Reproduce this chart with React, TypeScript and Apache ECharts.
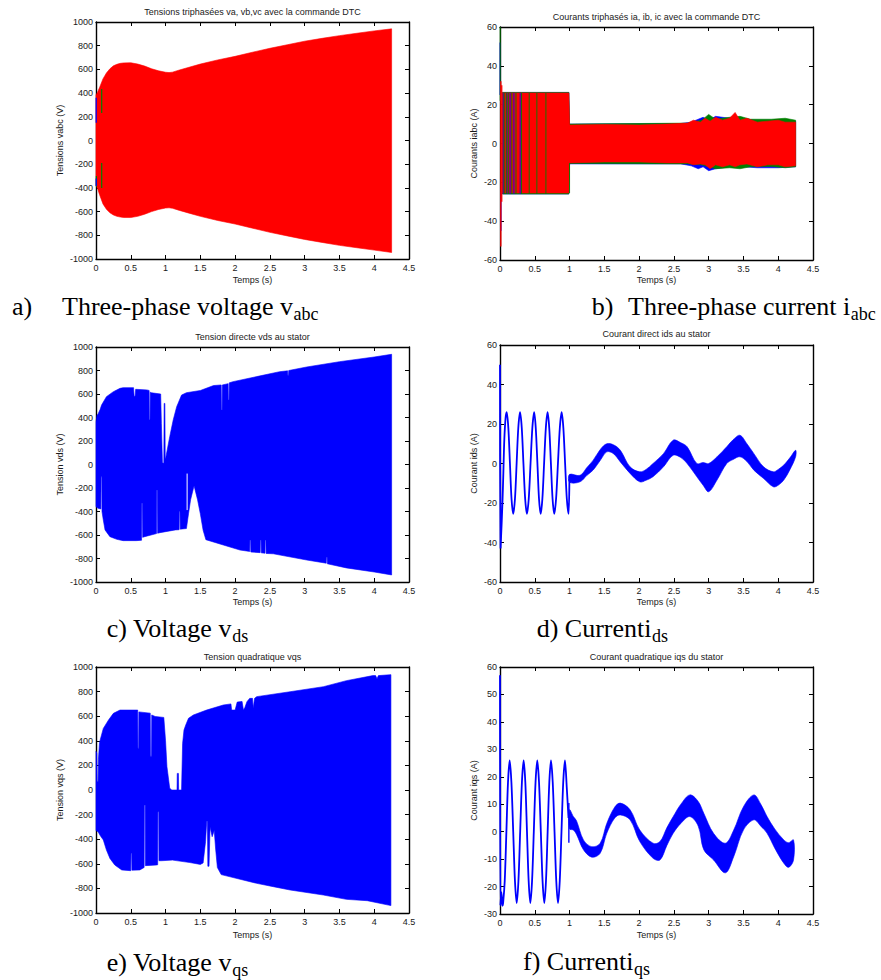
import React, { useEffect, useRef } from "react";
import * as echarts from "echarts";

// ---------------- data ----------------
// a) three-phase voltage envelope (V)
const vabcT = [0, 0.02, 0.05, 0.1, 0.15, 0.2, 0.25, 0.3, 0.35, 0.4, 0.5, 0.6, 0.7, 0.8, 0.9, 1.0, 1.05, 1.1, 1.2, 1.35, 1.5, 1.75, 2.0, 2.25, 2.5, 2.75, 3.0, 3.25, 3.5, 3.75, 4.0, 4.25];
const vabcUpper = [384, 405, 445, 520, 570, 605, 630, 643, 651, 655, 656, 645, 628, 605, 588, 576, 573, 577, 595, 620, 645, 680, 710, 745, 778, 808, 838, 862, 885, 905, 925, 942];
const vabcLower = [-376, -400, -455, -535, -580, -610, -628, -640, -646, -650, -650, -640, -622, -600, -582, -570, -568, -572, -590, -615, -640, -675, -705, -740, -775, -805, -835, -860, -885, -905, -925, -945];
const vabcGreenSegs = [[0.082, 232, 435], [0.082, -400, -190], [0.006, -390, -300]];
const vabcBlueSegs = [[0.003, 150, 360], [0.003, -385, -320]];

// b) three-phase currents: bands [t, low, high] (A) and vertical strokes [t, y1, y2]
const iabcBlueBand = [[0.035, -26, 26.3], [0.99, -26, 26.3], [1.0, -10.5, 10], [2.6, -10.5, 10.3], [2.75, -11.5, 11], [2.85, -13, 12.5], [2.92, -12, 13.5], [3.0, -14, 12], [3.1, -13, 14], [3.3, -12, 13], [3.5, -12, 12.5], [3.7, -12.5, 12], [4.0, -12.5, 12], [4.25, -12, 11.5]];
const iabcGreenBand = [[0.035, -26, 26.3], [0.99, -26, 26.3], [1.0, -10.3, 10], [2.7, -10.5, 10.5], [2.9, -11, 12], [3.0, -12, 15], [3.1, -13, 12.5], [3.3, -12.5, 13.5], [3.45, -13, 14], [3.6, -12, 12.5], [3.9, -11.8, 12.5], [4.1, -12.5, 13], [4.25, -12, 12]];
const iabcRedBand = [[0.035, -25.5, 26], [0.99, -25.5, 26], [1.0, -10, 9.5], [1.5, -9.5, 9.8], [2.0, -9.5, 9.5], [2.4, -10, 10], [2.7, -10, 10.5], [2.78, -11, 12], [2.88, -10.5, 11], [2.95, -11, 13], [3.02, -13, 11.5], [3.1, -11, 13.5], [3.2, -12, 12], [3.3, -11, 13], [3.38, -12, 16], [3.45, -11, 12], [3.55, -10.5, 13], [3.7, -12, 11], [3.85, -11, 11.5], [4.0, -11, 12], [4.1, -12, 11], [4.25, -11.5, 11]];
const iabcGreenSegs = [[0.003, 22, 60], [1.0, -25.5, -10], [0.06, -26, 26], [0.09, -26, 26], [0.12, -26, 26], [0.17, -26, 26], [0.23, -26, 26], [0.31, -26, 26], [0.42, -26, 26], [0.53, -26, 26], [0.66, -26, 26]];
const iabcBlueSegs = [[0.0, 25, 52], [0.015, -45, -25], [0.045, -26, 26], [0.1, -26, 26], [0.145, -26, 26], [0.2, -26, 26], [0.29, -26, 26]];
const iabcRedSegs = [[0.012, -53, 32], [0.025, -30, 30]];

// c) vds envelope [t, v] (V)
const vdsUpper = [[0, 364], [0.015, 420], [0.03, 430], [0.06, 470], [0.08, 506], [0.15, 577], [0.25, 620], [0.345, 648], [0.39, 654], [0.54, 654], [0.548, 580], [0.562, 580], [0.57, 640], [0.73, 635], [0.764, 630], [0.767, 380], [0.777, 380], [0.78, 615], [0.8, 610], [0.93, 600], [0.94, 350], [0.955, 15], [0.975, 10], [0.98, 520], [0.99, 520], [0.995, 60], [1.0, 50], [1.06, 237], [1.11, 379], [1.16, 492], [1.23, 591], [1.3, 611], [1.5, 630], [1.69, 672], [1.8, 677], [1.803, 464], [1.813, 464], [1.816, 677], [1.9, 688], [1.903, 549], [1.913, 549], [1.916, 695], [1.97, 705], [2.31, 748], [2.64, 790], [2.755, 797], [2.758, 760], [2.768, 760], [2.771, 800], [3.03, 830], [3.5, 875], [4.0, 915], [4.25, 938]];
const vdsLower = [[0, -359], [0.03, -373], [0.07, -378], [0.073, -105], [0.083, -105], [0.086, -400], [0.105, -472], [0.13, -557], [0.2, -614], [0.3, -637], [0.39, -648], [0.58, -648], [0.655, -645], [0.658, -330], [0.668, -330], [0.671, -620], [0.7, -614], [0.87, -588], [0.873, -217], [0.883, -217], [0.886, -585], [0.92, -580], [1.14, -557], [1.195, -555], [1.198, -401], [1.208, -401], [1.211, -550], [1.3, -545], [1.33, -420], [1.36, -300], [1.41, -180], [1.46, -300], [1.5, -420], [1.54, -560], [1.58, -640], [1.83, -685], [2.07, -728], [2.21, -740], [2.213, -643], [2.223, -643], [2.226, -745], [2.36, -750], [2.363, -643], [2.373, -643], [2.376, -752], [2.43, -755], [2.433, -643], [2.443, -643], [2.446, -757], [2.55, -760], [3.03, -813], [3.31, -840], [3.313, -790], [3.323, -790], [3.326, -845], [3.6, -880], [4.0, -915], [4.25, -940]];
const vdsGapSegs = [[1.31, -388, -77]];

// d) ids (A): clean oscillation then noisy band [t, low, high]
const idsStart = [[0, 50], [0.008, -43], [0.035, -20], [0.048, -5], [0.062, 12], [0.08, 23], [0.096, 26], [0.12, 18], [0.143, 0], [0.166, -18], [0.19, -25.5], [0.215, -18], [0.239, 0], [0.263, 18], [0.288, 26], [0.313, 18], [0.337, 0], [0.362, -18], [0.387, -25.5], [0.413, -18], [0.439, 0], [0.465, 18], [0.491, 26], [0.514, 18], [0.538, 0], [0.561, -18], [0.585, -25.5], [0.609, -18], [0.634, 0], [0.659, 18], [0.684, 26], [0.708, 18], [0.732, 0], [0.756, -18], [0.78, -25.5], [0.806, -18], [0.833, 0], [0.86, 18], [0.886, 26], [0.911, 18], [0.936, 0], [0.961, -18], [0.986, -25.5], [0.998, -8]];
const idsBand = [[1.0, -9.5, -5.5], [1.15, -9.3, -6], [1.25, -6, -2], [1.34, -3.3, 1.7], [1.45, 2, 7.5], [1.535, 5.9, 10], [1.63, 5, 9.5], [1.73, 0.8, 6.7], [1.87, -5, -1.7], [2.01, -9.3, -4.2], [2.1, -8.5, -3], [2.2, -6.7, 0], [2.35, -1.7, 5], [2.49, 4.2, 11.8], [2.6, 3, 10.5], [2.69, 0, 8.5], [2.83, -6.7, 0], [2.92, -11, 0.5], [3.0, -14.3, 0], [3.12, -8.4, 3.4], [3.26, 0, 8.5], [3.35, 2, 12], [3.45, 3.4, 14.3], [3.55, 1, 10], [3.65, -3.4, 5], [3.79, -7.6, -1.7], [3.93, -11.8, -4.2], [4.0, -11, -3], [4.08, -8.4, -0.8], [4.17, -3, 3], [4.25, 3.4, 6.7]];

// e) vqs envelope [t, v] (V)
const vqsUpper = [[0, 314], [0.012, 300], [0.016, 70], [0.03, 70], [0.035, 250], [0.05, 380], [0.06, 407], [0.105, 501], [0.18, 569], [0.25, 623], [0.345, 650], [0.6, 650], [0.603, 340], [0.613, 340], [0.616, 635], [0.78, 625], [0.783, 275], [0.798, 275], [0.801, 610], [0.85, 598], [0.975, 590], [1.0, 400], [1.02, 190], [1.06, 14], [1.09, 0], [1.165, 0], [1.168, 135], [1.185, 135], [1.188, 0], [1.23, 0], [1.245, 379], [1.265, 488], [1.29, 528], [1.33, 583], [1.4, 610], [1.59, 650], [1.83, 691], [1.94, 700], [1.95, 650], [2.0, 650], [2.03, 715], [2.1, 720], [2.12, 650], [2.14, 670], [2.17, 718], [2.21, 745], [2.25, 745], [2.26, 664], [2.28, 745], [2.31, 759], [2.79, 799], [3.27, 840], [3.6, 889], [3.98, 930], [4.02, 930], [4.04, 905], [4.06, 930], [4.24, 938]];
const vqsLower = [[0, -330], [0.03, -340], [0.06, -370], [0.105, -406], [0.15, -488], [0.2, -556], [0.27, -610], [0.37, -650], [0.5, -656], [0.503, -515], [0.513, -515], [0.516, -652], [0.63, -650], [0.692, -630], [0.695, -122], [0.707, -122], [0.71, -615], [0.87, -610], [0.887, -608], [0.89, -176], [0.902, -176], [0.905, -575], [0.94, -575], [1.1, -570], [1.35, -590], [1.5, -605], [1.54, -593], [1.575, -420], [1.592, -255], [1.602, -255], [1.608, -620], [1.625, -620], [1.64, -300], [1.67, -380], [1.7, -330], [1.72, -480], [1.745, -630], [1.8, -688], [2.31, -759], [2.55, -786], [2.79, -813], [3.27, -854], [3.6, -889], [3.9, -900], [4.24, -940]];

// f) iqs (A)
const iqsStart = [[0, 57], [0.006, -27], [0.02, -22], [0.035, -27], [0.045, -26], [0.068, -18], [0.092, 0], [0.115, 18], [0.139, 26], [0.164, 18], [0.19, 0], [0.215, -18], [0.24, -26], [0.265, -18], [0.29, 0], [0.315, 18], [0.34, 26], [0.364, 18], [0.388, 0], [0.412, -18], [0.436, -26], [0.461, -18], [0.486, 0], [0.511, 18], [0.536, 26], [0.561, 18], [0.587, 0], [0.612, -18], [0.637, -26], [0.661, -18], [0.685, 0], [0.709, 18], [0.733, 26], [0.758, 18], [0.784, 0], [0.809, -18], [0.834, -26], [0.859, -18], [0.884, 0], [0.909, 18], [0.934, 26], [0.96, 16], [0.985, 5]];
const iqsSegs = [[0.99, -4, 10.4]];
const iqsBand = [[1.0, 1, 8], [1.055, 0.6, 5.5], [1.1, -1, 4], [1.2, -6.6, -3], [1.32, -9.3, -5.5], [1.44, -7.9, -4.2], [1.535, -0.6, 3], [1.65, 5, 9], [1.73, 6.1, 10.4], [1.87, 4.3, 8], [2.01, -3.6, 0.6], [2.2, -9.7, -4.2], [2.3, -10.3, -3.6], [2.4, -5, 1.5], [2.49, -0.6, 5.5], [2.6, 3, 10], [2.73, 5.5, 13.4], [2.85, 2, 11], [2.93, -6.6, 6.7], [3.07, -10.3, -0.6], [3.24, -15, -4.2], [3.36, -9.1, 0.6], [3.5, 0.6, 9.1], [3.65, 4.3, 13.4], [3.75, 2, 10], [3.84, -0.6, 5.5], [3.95, -6, 1], [4.08, -11.5, -3], [4.15, -13, -4], [4.22, -10.3, -3]];

// axis ranges
const timeRange = [0, 4.5, 0.5];
const voltRange = [-1000, 1000, 200];
const currRange = [-60, 60, 20];
const iqsRange = [-30, 60, 10];

// texts
const titles = [
  "Tensions triphasées va, vb,vc avec la commande DTC",
  "Courants triphasés ia, ib, ic avec la commande DTC",
  "Tension directe vds au stator",
  "Courant direct ids au stator",
  "Tension quadratique vqs",
  "Courant quadratique iqs du stator",
];
const yNames = ["Tensions vabc (V)", "Courants iabc (A)", "Tension vds (V)", "Courant ids (A)", "Tension vqs (V)", "Courant iqs (A)"];
const xName = "Temps (s)";

// ---------------- styling / layout ----------------
const RED = "#ff0000";
const GREEN = "#008000";
const BLUE = "#0000ff";
const SANS = '"Liberation Sans", Arial, sans-serif';
const SERIF = '"Liberation Serif", "Times New Roman", serif';

const layout = [
  { left: 96, top: 22, width: 313, height: 237, range: voltRange, titleX: 252.5, titleY: 12, xGap: 16, yGap: 32 },
  { left: 500, top: 27, width: 313, height: 233, range: currRange, titleX: 656.5, titleY: 17, xGap: 15, yGap: 22 },
  { left: 96, top: 347, width: 313, height: 235, range: voltRange, titleX: 252.5, titleY: 337, xGap: 15, yGap: 32 },
  { left: 500, top: 345, width: 313, height: 237, range: currRange, titleX: 656.5, titleY: 334, xGap: 15, yGap: 22 },
  { left: 96, top: 667, width: 313, height: 246, range: voltRange, titleX: 252.5, titleY: 657, xGap: 17, yGap: 32 },
  { left: 500, top: 667, width: 313, height: 247, range: iqsRange, titleX: 656.5, titleY: 657, xGap: 16, yGap: 22 },
];

const captions = [
  { parts: [{ text: "a)", x: 12, sub: "" }, { text: "Three-phase voltage v", x: 62, sub: "abc" }], base: 315 },
  { parts: [{ text: "b)", x: 591.7, sub: "" }, { text: "Three-phase current i", x: 628, sub: "abc" }], base: 315 },
  { parts: [{ text: "c) Voltage v", x: 106.7, sub: "ds" }], base: 637 },
  { parts: [{ text: "d) Currenti", x: 536.7, sub: "ds" }], base: 637 },
  { parts: [{ text: "e) Voltage v", x: 106.7, sub: "qs" }], base: 971 },
  { parts: [{ text: "f) Currenti", x: 523, sub: "qs" }], base: 970 },
];
const CAP_SIZE = 26;
const SUB_SIZE = 18;

// ---------------- helpers ----------------
function triToPoly(tri: number[][]) {
  return tri.map((r) => [r[0], r[2]]).concat(tri.map((r) => [r[0], r[1]]).reverse());
}
function envToPoly(up: number[][], lo: number[][]) {
  return up.concat(lo.slice().reverse());
}
function polySeries(gi: number, pts: number[][], color: string, smooth = 0, z = 2) {
  return {
    type: "custom",
    xAxisIndex: gi * 2,
    yAxisIndex: gi * 2,
    data: pts,
    z,
    silent: true,
    encode: { x: 0, y: 1 },
    renderItem: (params: any, api: any) => {
      if (params.dataIndex !== 0) return null;
      return {
        type: "polygon",
        shape: { points: pts.map((p) => api.coord(p)), smooth },
        style: { fill: color, stroke: color, lineWidth: 0.6 },
      };
    },
  };
}
function segSeries(gi: number, segs: number[][], color: string, width: number, z = 3) {
  return {
    type: "custom",
    xAxisIndex: gi * 2,
    yAxisIndex: gi * 2,
    data: segs,
    z,
    silent: true,
    encode: { x: 0, y: [1, 2] },
    renderItem: (params: any, api: any) => {
      const a = api.coord([api.value(0), api.value(1)]);
      const b = api.coord([api.value(0), api.value(2)]);
      return { type: "line", shape: { x1: a[0], y1: a[1], x2: b[0], y2: b[1] }, style: { stroke: color, lineWidth: width } };
    },
  };
}
function lineSeries(gi: number, pts: number[][], color: string, width: number) {
  return {
    type: "line",
    xAxisIndex: gi * 2,
    yAxisIndex: gi * 2,
    data: pts,
    showSymbol: false,
    symbol: "none",
    smooth: 0.3,
    silent: true,
    z: 3,
    lineStyle: { color, width },
  };
}

export default function App() {
  const ref = useRef<HTMLDivElement>(null);

  useEffect(() => {
    if (!ref.current) return;
    const chart = echarts.init(ref.current, undefined, { renderer: "svg" });

    const ctx = document.createElement("canvas").getContext("2d")!;
    const measure = (t: string, size: number) => {
      ctx.font = `${size}px "Liberation Serif"`;
      return ctx.measureText(t).width;
    };

    const lbl = { fontSize: 9, color: "#1a1a1a", fontFamily: SANS };
    const common = {
      type: "value",
      splitLine: { show: false },
      axisLine: { show: true, onZero: false, lineStyle: { color: "#000", width: 1.4 } },
      axisTick: { show: true, inside: true, length: 4, lineStyle: { color: "#000", width: 1 } },
    };
    const fmt = (v: number) => String(v);

    const grids: any[] = [];
    const xAxes: any[] = [];
    const yAxes: any[] = [];
    layout.forEach((p, i) => {
      grids.push({ left: p.left, top: p.top, width: p.width, height: p.height, outerBoundsMode: "none", containLabel: false });
      xAxes.push({
        ...common, gridIndex: i, position: "bottom", min: timeRange[0], max: timeRange[1], interval: timeRange[2],
        axisLabel: { ...lbl, margin: 4, formatter: fmt },
        name: xName, nameLocation: "middle", nameGap: p.xGap, nameMoveOverlap: false, nameTextStyle: { ...lbl },
      });
      xAxes.push({
        ...common, gridIndex: i, position: "top", min: timeRange[0], max: timeRange[1], interval: timeRange[2],
        axisLabel: { show: false },
      });
      yAxes.push({
        ...common, gridIndex: i, position: "left", min: p.range[0], max: p.range[1], interval: p.range[2],
        axisLabel: { ...lbl, margin: 3, formatter: fmt },
        name: yNames[i], nameLocation: "middle", nameRotate: 90, nameGap: p.yGap, nameMoveOverlap: false, nameTextStyle: { ...lbl },
      });
      yAxes.push({
        ...common, gridIndex: i, position: "right", min: p.range[0], max: p.range[1], interval: p.range[2],
        axisLabel: { show: false },
      });
    });

    const vabcPoly = envToPoly(vabcT.map((t, k) => [t, vabcUpper[k]]), vabcT.map((t, k) => [t, vabcLower[k]]));

    const series: any[] = [
      // a
      polySeries(0, vabcPoly, RED),
      segSeries(0, vabcGreenSegs, GREEN, 1.2),
      segSeries(0, vabcBlueSegs, BLUE, 1.2),
      // b
      polySeries(1, triToPoly(iabcBlueBand), BLUE),
      polySeries(1, triToPoly(iabcGreenBand), GREEN),
      polySeries(1, triToPoly(iabcRedBand), RED),
      segSeries(1, iabcBlueSegs, BLUE, 0.9),
      segSeries(1, iabcGreenSegs, GREEN, 0.9),
      segSeries(1, iabcRedSegs, RED, 1.3),
      // c
      polySeries(2, envToPoly(vdsUpper, vdsLower), BLUE),
      segSeries(2, vdsGapSegs, "#ffffff", 1),
      // d
      lineSeries(3, idsStart, BLUE, 1.8),
      polySeries(3, triToPoly(idsBand), BLUE, 0.35),
      // e
      polySeries(4, envToPoly(vqsUpper, vqsLower), BLUE),
      // f
      lineSeries(5, iqsStart, BLUE, 1.8),
      segSeries(5, iqsSegs, BLUE, 1.4),
      polySeries(5, triToPoly(iqsBand), BLUE, 0.35),
    ];

    const graphics: any[] = [];
    layout.forEach((p, i) => {
      graphics.push({
        type: "text", x: p.titleX, y: p.titleY, silent: true,
        style: { text: titles[i], fontSize: 9, fontFamily: SANS, fill: "#1a1a1a", align: "center", verticalAlign: "middle" },
      });
    });
    captions.forEach((c) => {
      c.parts.forEach((part) => {
        graphics.push({
          type: "text", x: part.x, y: c.base - 0.3375 * CAP_SIZE, silent: true,
          style: { text: part.text, fontSize: CAP_SIZE, fontFamily: SERIF, fill: "#000", align: "left", verticalAlign: "middle" },
        });
        if (part.sub) {
          const w = measure(part.text, CAP_SIZE);
          graphics.push({
            type: "text", x: part.x + w + 0.5, y: c.base + 5 - 0.3375 * SUB_SIZE, silent: true,
            style: { text: part.sub, fontSize: SUB_SIZE, fontFamily: SERIF, fill: "#000", align: "left", verticalAlign: "middle" },
          });
        }
      });
    });

    chart.setOption({
      animation: false,
      backgroundColor: "#ffffff",
      grid: grids,
      xAxis: xAxes,
      yAxis: yAxes,
      series,
      graphic: graphics,
    });

    return () => chart.dispose();
  }, []);

  return <div ref={ref} style={{ position: "absolute", left: 0, top: 0, width: 881, height: 980 }} />;
}
